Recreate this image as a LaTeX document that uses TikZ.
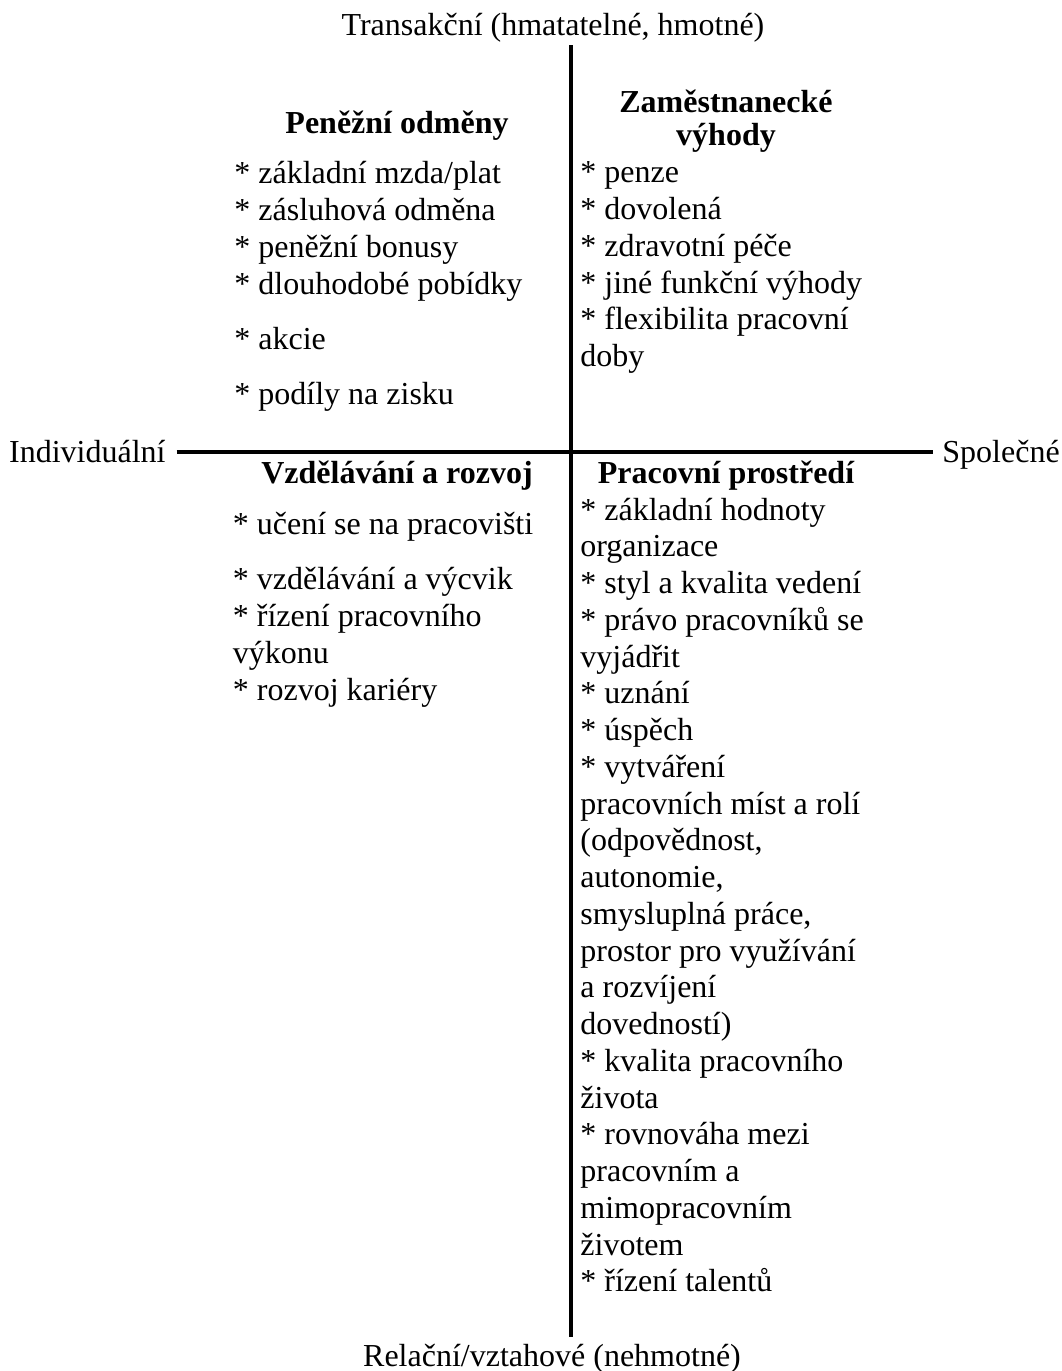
\documentclass[tikz,border=0pt]{standalone}
\usepackage{fontspec}
\setmainfont{Liberation Serif}
\tikzset{
  txt/.style={font=\fontsize{16}{18.375}\selectfont, inner sep=0pt},
  heading/.style={font=\fontsize{16}{16.5}\selectfont\bfseries, inner sep=0pt, align=center, anchor=base},
  itemlist/.style={txt, align=left, anchor=base west},
  axisline/.style={line width=2.1pt}
}
\begin{document}
\begin{tikzpicture}[x=0.5pt,y=0.5pt,yscale=-1,xscale=1]
%set diagram left start at 0, and has height of 1371
\useasboundingbox (0,0) rectangle (1061,1371);
% Text Node
\draw (553,35) node [txt, anchor=base] (transakcni) {Transakční (hmatatelné, hmotné)};
% Text Node
\draw (552,1366.7) node [txt, anchor=base] (relacni) {Relační/vztahové (nehmotné)};
% Text Node
\draw (166,462.7) node [txt, anchor=base east] (individualni) {Individuální};
% Text Node
\draw (942,462.7) node [txt, anchor=base west] (spolecne) {Společné};
%Straight Lines
\coordinate (axtop) at (571,45);
\coordinate (axbottom) at (571,1337.3);
\coordinate (axleft) at (176.5,452);
\coordinate (axright) at (932.7,452);
\draw [axisline] (axtop) -- (axbottom);
\draw [axisline] (axleft) -- (axright);
% Text Node (multi-line nodes sit on the baseline of their last line)
\draw (397,133.3) node [heading] (penezni) {Peněžní odměny};
% Text Node
\draw (726,145.7) node [heading] (vyhody) {Zaměstnanecké\\výhody};
% Text Node
\draw (397,483) node [heading] (vzdelavani) {Vzdělávání a rozvoj};
% Text Node
\draw (726,483.3) node [heading] (prostredi) {Pracovní prostředí};
% Text Node
\draw (234,404.4) node [itemlist] (penezlist) {* základní mzda/plat\\* zásluhová odměna\\* peněžní bonusy\\* dlouhodobé pobídky\\[9.2pt]* akcie\\[9.2pt]* podíly na zisku};
% Text Node
\draw (580,366.7) node [itemlist] (vyhodylist) {* penze\\* dovolená\\* zdravotní péče\\* jiné funkční výhody\\* flexibilita pracovní\\doby};
% Text Node
\draw (232.5,700) node [itemlist] (vzdelavanilist) {* učení se na pracovišti\\[9.2pt]* vzdělávání a výcvik\\* řízení pracovního\\výkonu\\* rozvoj kariéry};
% Text Node
\draw (580,1291.75) node [itemlist] (prostredilist) {* základní hodnoty\\organizace\\* styl a kvalita vedení\\* právo pracovníků se\\vyjádřit\\* uznání\\* úspěch\\* vytváření\\pracovních míst a rolí\\(odpovědnost,\\autonomie,\\smysluplná práce,\\prostor pro využívání\\a rozvíjení\\dovedností)\\* kvalita pracovního\\života\\* rovnováha mezi\\pracovním a\\mimopracovním\\životem\\* řízení talentů};
\end{tikzpicture}
\end{document}
